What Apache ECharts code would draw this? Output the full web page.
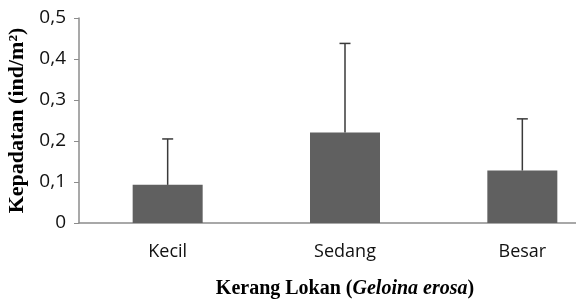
<!DOCTYPE html>
<html>
<head>
<meta charset="UTF-8">
<title></title>
<script src="https://cdn.jsdelivr.net/npm/echarts@6/dist/echarts.min.js"></script>
<style>
html, body { margin: 0; padding: 0; background: #fff; }
#chart { width: 576px; height: 303px; }
</style>
</head>
<body>
<div id="chart"></div>
<script type="text/javascript">
var categories = ['Kecil', 'Sedang', 'Besar'];
var density = [0.093, 0.221, 0.128];
var errorTop = [0.205, 0.438, 0.254];
var yTicks = [0, 0.1, 0.2, 0.3, 0.4, 0.5];

var myChart = echarts.init(document.getElementById('chart'));

var errData = [];
for (var i = 0; i < categories.length; i++) {
	errData.push([i, density[i], errorTop[i]]);
}

myChart.setOption({
	animation: false,
	grid: { left: 79, top: 18, width: 532, height: 205, outerBoundsMode: 'none', containLabel: false },
	xAxis: {
		type: 'category',
		data: categories,
		axisLine: { lineStyle: { color: '#8c8c8c', width: 1.5 } },
		axisTick: { show: false },
		axisLabel: { color: '#111', fontFamily: 'Open Sans', fontSize: 18, margin: 20 },
		name: '{b|Kerang Lokan (}{i|Geloina erosa}{b|)}',
		nameLocation: 'middle',
		nameGap: 56,
		nameTextStyle: {
			rich: {
				b: { fontFamily: 'Liberation Serif', fontWeight: 'bold', fontSize: 20, color: '#000' },
				i: { fontFamily: 'Liberation Serif', fontWeight: 'bold', fontStyle: 'italic', fontSize: 20, color: '#000' }
			}
		}
	},
	yAxis: {
		type: 'value',
		min: 0,
		max: 0.5,
		interval: 0.1,
		splitLine: { show: false },
		axisLine: { show: true, lineStyle: { color: '#8c8c8c', width: 1.5 } },
		axisTick: { show: true, inside: false, length: 5, lineStyle: { color: '#8c8c8c' } },
		axisLabel: {
			color: '#111', fontFamily: 'Open Sans', fontSize: 19, margin: 13,
			formatter: function (v) {
				var idx = yTicks.indexOf(Math.round(v * 10) / 10);
				return String(yTicks[idx]).replace('.', ',');
			}
		},
		name: 'Kepadatan (ind/m²)',
		nameLocation: 'middle',
		nameGap: 48,
		nameTextStyle: { fontFamily: 'Liberation Serif', fontWeight: 'bold', fontSize: 22, color: '#000' }
	},
	series: [{
		type: 'bar',
		data: density,
		barWidth: 70,
		itemStyle: { color: '#606060' }
	}, {
		type: 'custom',
		data: errData,
		z: 3,
		renderItem: function (params, api) {
			var x = api.value(0);
			var lo = api.coord([x, api.value(1)]);
			var hi = api.coord([x, api.value(2)]);
			var cap = 5.5;
			var st = { stroke: '#3a3a3a', lineWidth: 1.5 };
			return {
				type: 'group',
				children: [
					{ type: 'line', shape: { x1: lo[0], y1: lo[1], x2: hi[0], y2: hi[1] }, style: st },
					{ type: 'line', shape: { x1: hi[0] - cap, y1: hi[1], x2: hi[0] + cap, y2: hi[1] }, style: st }
				]
			};
		}
	}]
});
</script>
</body>
</html>
